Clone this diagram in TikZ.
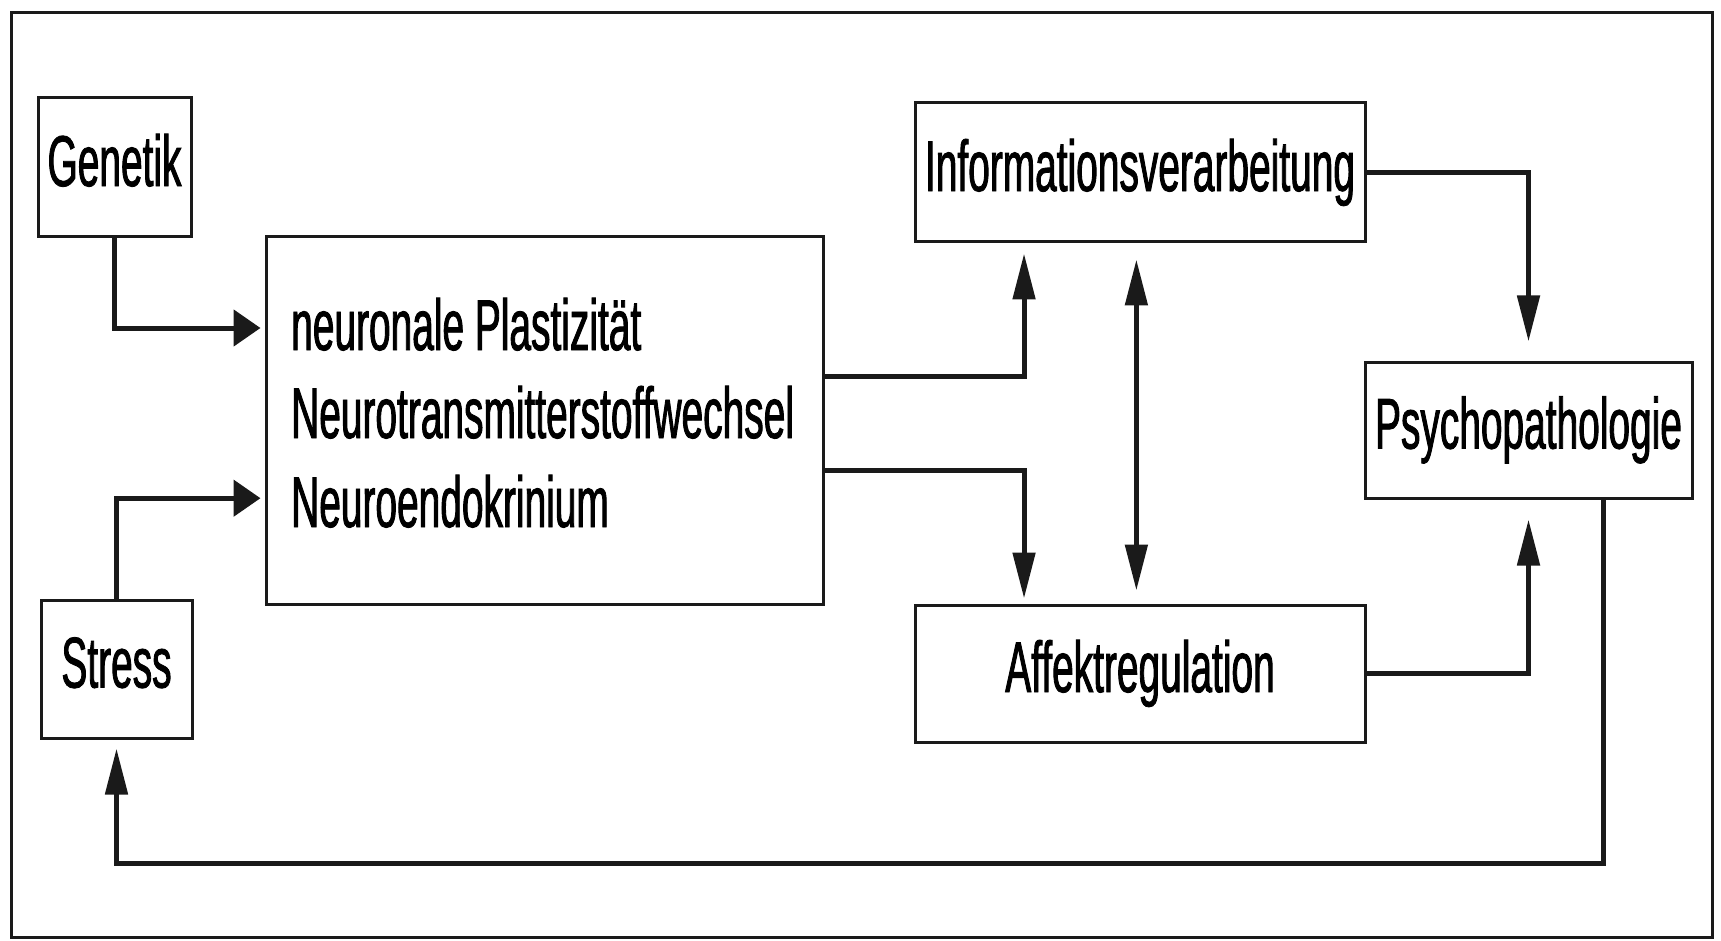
\documentclass[tikz,border=0pt]{standalone}
\usepackage{fontspec}
\setmainfont{Liberation Sans}[FakeStretch=0.54,FakeBold=1.2]
\usetikzlibrary{arrows.meta,calc}
\definecolor{ink}{HTML}{1A1A1A}
\begin{document}
\begin{tikzpicture}[x=1pt,y=-1pt,
  box/.style={draw=ink, line width=3pt, inner sep=0pt, font=\fontsize{72}{86}\selectfont, text height=51.5pt, text depth=14.4pt},
  lbl/.style={inner sep=0pt, anchor=base west, font=\fontsize{72}{86}\selectfont},
  conn/.style={draw=ink, line width=5pt},
  harr/.style={conn, -{Triangle[length=27pt,width=36pt]}},
  varr/.style={conn, -{Triangle[length=46pt,width=22pt]}},
  darr/.style={conn, {Triangle[length=46pt,width=22pt]}-{Triangle[length=46pt,width=22pt]}},
]
\useasboundingbox (0,0) rectangle (1721,941);
\draw[ink, line width=3pt] (11,13) rectangle (1712,937);

\node[box, minimum width=153pt, minimum height=139pt] (gen) at (114.5,167.5) {Genetik};
\node[box, minimum width=151pt, minimum height=138pt] (stress) at (116.5,669) {Stress};
\node[box, minimum width=557pt, minimum height=367pt] (neuro) at (544.5,420.5) {};
\node[lbl] (t1) at (291,350) {neuronale Plastizität};
\node[lbl] (t2) at (291,438) {Neurotransmitterstoffwechsel};
\node[lbl] (t3) at (291,527) {Neuroendokrinium};
\node[box, minimum width=450pt, minimum height=139pt] (info) at (1140,172.5) {Informationsverarbeitung};
\node[box, minimum width=450pt, minimum height=137pt] (aff) at (1140,673.5) {Affektregulation};
\node[box, minimum width=327pt, minimum height=136pt] (psy) at (1528.5,430) {Psychopathologie};

% Genetik / Stress -> neuro
\draw[harr, shorten >=4pt] (gen.south) |- ($(neuro.north west)!0.25!(neuro.south west)$);
\draw[harr, shorten >=4pt] (stress.north) |- ($(neuro.north west)!0.71!(neuro.south west)$);

% neuro -> info / affekt
\draw[varr, shorten >=10pt] ($(neuro.north east)!0.381!(neuro.south east)$) -| ($(info.south west)!0.244!(info.south east)$);
\draw[varr, shorten >=5pt] ($(neuro.north east)!0.635!(neuro.south east)$) -| ($(aff.north west)!0.244!(aff.north east)$);

% info <-> affekt
\draw[darr, shorten <=16pt, shorten >=13pt] ($(info.south west)!0.492!(info.south east)$) -- ($(aff.north west)!0.492!(aff.north east)$);

% info / affekt -> psycho
\draw[varr, shorten >=19pt] (info.east) -| (psy.north);
\draw[varr, shorten >=20pt] (aff.east) -| (psy.south);

% feedback psycho -> stress
\coordinate (fb) at (stress.south |- 0,863);
\draw[varr, shorten >=9pt] ($(psy.south west)!0.728!(psy.south east)$) |- (fb) -- (stress.south);
\end{tikzpicture}
\end{document}
